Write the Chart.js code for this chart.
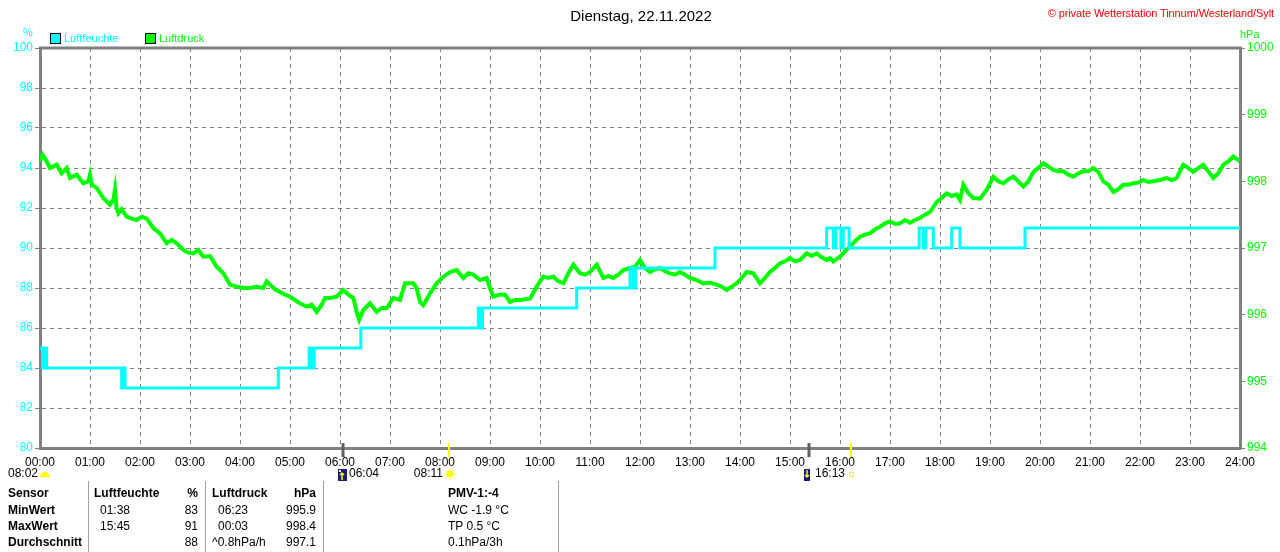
<!DOCTYPE html>
<html>
<head>
<meta charset="utf-8">
<script src="https://cdn.jsdelivr.net/npm/chart.js@4.4.1/dist/chart.umd.min.js"></script>
<style>
body { margin: 0; background: #fff; font-family: "Liberation Sans", Arial, sans-serif; }
#wrap { position: relative; width: 1280px; height: 552px; overflow: hidden; }
canvas { position: absolute; left: 0; top: 0; }
.t { position: absolute; white-space: nowrap; font-size: 12px; line-height: 14px; color: #000; }
.b { font-weight: bold; }
.vl { position: absolute; top: 481px; height: 71px; width: 1px; background: #a0a0a0; }
.sq { position: absolute; width: 9px; height: 9px; border: 1px solid #000; }
</style>
</head>
<body>
<div id="wrap">
  <canvas id="chart" width="1280" height="552"></canvas>

  <div class="t" style="left:0;width:1282px;text-align:center;top:7px;font-size:15px;line-height:17px;">Dienstag, 22.11.2022</div>
  <div class="t" style="right:6px;top:6px;font-size:11px;color:#ff0000;letter-spacing:-0.1px;">© private Wetterstation Tinnum/Westerland/Sylt</div>

  <div class="t" style="left:23px;top:25px;font-size:11px;color:#00ffff;">%</div>
  <div class="t" style="left:1240px;top:27px;font-size:11px;color:#00ff00;">hPa</div>
  <div class="sq" style="left:50px;top:33px;background:#00ffff;"></div>
  <div class="t" style="left:64px;top:31px;font-size:11px;color:#00ffff;">Luftfeuchte</div>
  <div class="sq" style="left:145px;top:33px;background:#00ff00;"></div>
  <div class="t" style="left:159px;top:31px;font-size:11px;color:#00ff00;">Luftdruck</div>

  <div class="vl" style="left:88px;"></div>
  <div class="vl" style="left:205px;"></div>
  <div class="vl" style="left:323px;"></div>
  <div class="vl" style="left:558px;"></div>

  <div class="t b" style="left:8px;top:486px;">Sensor</div>
  <div class="t b" style="left:8px;top:503px;">MinWert</div>
  <div class="t b" style="left:8px;top:519px;">MaxWert</div>
  <div class="t b" style="left:8px;top:535px;">Durchschnitt</div>

  <div class="t b" style="left:94px;top:486px;">Luftfeuchte</div>
  <div class="t b" style="right:1082px;top:486px;">%</div>
  <div class="t" style="left:100px;top:503px;">01:38</div>
  <div class="t" style="right:1082px;top:503px;">83</div>
  <div class="t" style="left:100px;top:519px;">15:45</div>
  <div class="t" style="right:1082px;top:519px;">91</div>
  <div class="t" style="right:1082px;top:535px;">88</div>

  <div class="t b" style="left:212px;top:486px;">Luftdruck</div>
  <div class="t b" style="right:964px;top:486px;">hPa</div>
  <div class="t" style="left:218px;top:503px;">06:23</div>
  <div class="t" style="right:964px;top:503px;">995.9</div>
  <div class="t" style="left:218px;top:519px;">00:03</div>
  <div class="t" style="right:964px;top:519px;">998.4</div>
  <div class="t" style="left:212px;top:535px;">^0.8hPa/h</div>
  <div class="t" style="right:964px;top:535px;">997.1</div>

  <div class="t b" style="left:448px;top:486px;">PMV-1:-4</div>
  <div class="t" style="left:448px;top:503px;">WC -1.9 °C</div>
  <div class="t" style="left:448px;top:519px;">TP 0.5 °C</div>
  <div class="t" style="left:448px;top:535px;">0.1hPa/3h</div>
</div>

<script>
// Zeiten in Minuten seit 00:00
const humTimes = [0, 3, 5, 8, 98, 100, 102, 286, 323, 326, 329, 385, 526, 529, 531, 644, 708, 712, 715,
  810, 944, 952, 955, 961, 964, 971, 1055, 1060, 1063, 1072, 1094, 1104, 1182, 1440];
const humValues = [85, 84, 85, 84, 83, 84, 83, 84, 85, 84, 85, 86, 87, 86, 87, 88, 89, 88, 89,
  90, 91, 90, 91, 90, 91, 90, 91, 90, 91, 90, 91, 90, 91, 91];

const pressTimes = [0, 3, 8, 12, 20, 26, 32, 36, 44, 52, 58, 60, 62, 68, 76, 84, 88, 90, 92, 94, 98,
  104, 110, 116, 122, 128, 136, 144, 152, 158, 164, 172, 178, 184, 190, 196, 204, 212, 220, 228, 236,
  244, 252, 260, 268, 272, 276, 282, 288, 294, 300, 306, 312, 320, 326, 332, 338, 342, 348, 356, 364,
  370, 376, 380, 383, 388, 396, 404, 410, 416, 424, 432, 438, 448, 452, 456, 460, 468, 476, 484, 492,
  500, 508, 514, 520, 528, 536, 540, 544, 552, 558, 564, 570, 576, 588, 596, 604, 610, 616, 622, 628,
  634, 640, 648, 654, 660, 668, 676, 682, 688, 694, 700, 708, 714, 720, 726, 732, 738, 744, 750, 756,
  762, 768, 774, 780, 788, 796, 804, 812, 818, 824, 830, 836, 842, 848, 856, 864, 870, 876, 882, 888,
  894, 900, 906, 912, 920, 926, 932, 938, 944, 948, 952, 960, 966, 972, 978, 984, 990, 996, 1002, 1008,
  1014, 1020, 1026, 1032, 1038, 1044, 1050, 1056, 1062, 1068, 1076, 1082, 1088, 1094, 1100, 1104, 1108,
  1114, 1120, 1128, 1136, 1144, 1150, 1156, 1162, 1168, 1174, 1180, 1186, 1192, 1198, 1204, 1210, 1216,
  1222, 1228, 1234, 1240, 1246, 1252, 1258, 1264, 1270, 1276, 1282, 1288, 1294, 1300, 1306, 1312, 1318,
  1324, 1330, 1336, 1344, 1352, 1358, 1364, 1372, 1378, 1384, 1390, 1396, 1402, 1408, 1414, 1420, 1426,
  1432, 1438, 1440];
const pressValues = [998.3, 998.4, 998.3, 998.2, 998.25, 998.12, 998.2, 998.05, 998.1, 997.97, 998.0, 998.1,
  997.95, 997.9, 997.75, 997.65, 997.72, 997.88, 997.6, 997.52, 997.58,
  997.47, 997.44, 997.42, 997.47, 997.44, 997.3, 997.22, 997.07, 997.12, 997.07, 996.97, 996.93, 996.92,
  996.97, 996.87, 996.88, 996.72, 996.62, 996.45, 996.42,
  996.4, 996.4, 996.42, 996.4, 996.5, 996.45, 996.38, 996.34, 996.3, 996.27, 996.22, 996.17, 996.12,
  996.15, 996.04, 996.15, 996.25, 996.25, 996.27, 996.37,
  996.3, 996.25, 996.04, 995.92, 996.07, 996.17, 996.04, 996.1, 996.1, 996.25, 996.22, 996.47, 996.47,
  996.4, 996.19, 996.14, 996.32, 996.47, 996.57, 996.64,
  996.67, 996.55, 996.62, 996.6, 996.52, 996.55, 996.4, 996.27, 996.3, 996.3, 996.19, 996.22, 996.22,
  996.24, 996.42, 996.57, 996.55, 996.57, 996.5, 996.47,
  996.62, 996.75, 996.62, 996.6, 996.64, 996.75, 996.55, 996.58, 996.55, 996.6, 996.67, 996.7, 996.72,
  996.82, 996.7, 996.64, 996.68, 996.7, 996.65, 996.62,
  996.6, 996.64, 996.6, 996.55, 996.52, 996.47, 996.48, 996.45, 996.42, 996.37, 996.42, 996.47, 996.55,
  996.64, 996.62, 996.47, 996.55, 996.64, 996.7, 996.77,
  996.8, 996.85, 996.8, 996.82, 996.92, 996.88, 996.92, 996.86, 996.82, 996.85, 996.8, 996.87, 996.95,
  997.02, 997.1, 997.17, 997.2, 997.22, 997.28, 997.32,
  997.37, 997.4, 997.36, 997.37, 997.42, 997.38, 997.42, 997.45, 997.5, 997.54, 997.69, 997.75, 997.82,
  997.78, 997.8, 997.72, 997.95,
  997.82, 997.75, 997.74, 997.87, 998.07, 998.0, 997.97, 998.03, 998.07, 998.0, 997.92, 998.0, 998.14,
  998.2, 998.27, 998.22, 998.17,
  998.15, 998.15, 998.1, 998.07, 998.12, 998.15, 998.15, 998.2, 998.14, 998.0, 997.95, 997.84, 997.88,
  997.95, 997.95, 997.97, 997.98,
  998.02, 997.99, 998.0, 998.02, 998.05, 998.02, 998.05, 998.25, 998.2, 998.14, 998.2, 998.25, 998.15,
  998.05, 998.12, 998.25, 998.3,
  998.37, 998.32, 998.3];

// Mond auf/unter, Sonne auf/unter
const moonTimes = [364, 923];
const sunTimes = [491, 973];
const moonLabels = ['06:04', ''];
const sunLabels = ['08:11', '16:13'];
const dawnLabel = '08:02';

function hhmm(v) {
  const h = Math.floor(v / 60), m = v % 60;
  return String(h).padStart(2, '0') + ':' + String(m).padStart(2, '0');
}

const extrasPlugin = {
  id: 'extras',
  afterDraw(chart) {
    const { ctx, chartArea: a, scales: { x } } = chart;
    ctx.save();
    // oberer Rahmen
    ctx.strokeStyle = '#808080';
    ctx.lineWidth = 3;
    ctx.beginPath();
    ctx.moveTo(a.left - 1, a.top);
    ctx.lineTo(a.right + 1, a.top);
    ctx.stroke();

    // Markierungen an der Zeitachse
    moonTimes.forEach(t => {
      const px = Math.round(x.getPixelForValue(t));
      ctx.strokeStyle = '#606060';
      ctx.lineWidth = 3;
      ctx.beginPath(); ctx.moveTo(px, a.bottom - 5); ctx.lineTo(px, a.bottom + 9); ctx.stroke();
    });
    sunTimes.forEach(t => {
      const px = Math.round(x.getPixelForValue(t));
      ctx.strokeStyle = '#ffff00';
      ctx.lineWidth = 2;
      ctx.beginPath(); ctx.moveTo(px, a.bottom - 5); ctx.lineTo(px, a.bottom + 9); ctx.stroke();
    });

    ctx.font = '12px "Liberation Sans", Arial, sans-serif';
    ctx.fillStyle = '#000';
    ctx.textBaseline = 'middle';
    const ty = a.bottom + 26;

    // Dämmerung links
    ctx.textAlign = 'left';
    ctx.fillText(dawnLabel, 8, ty);
    ctx.fillStyle = '#ffff00';
    ctx.beginPath(); ctx.arc(45, ty + 3, 5, Math.PI, 2 * Math.PI); ctx.fill();

    // Mond-Icons
    moonTimes.forEach((t, i) => {
      const px = Math.round(x.getPixelForValue(t));
      const ix = px - 5;
      ctx.fillStyle = '#1a1a80';
      ctx.fillRect(ix, ty - 5, i === 0 ? 9 : 6, 12);
      ctx.strokeStyle = '#ffff00';
      ctx.lineWidth = 1.5;
      const cx = ix + (i === 0 ? 4 : 3);
      ctx.beginPath();
      if (i === 0) {
        ctx.moveTo(cx, ty + 6); ctx.lineTo(cx, ty - 1);
        ctx.moveTo(cx - 2, ty + 1); ctx.lineTo(cx, ty - 1); ctx.lineTo(cx + 2, ty + 1);
      } else {
        ctx.moveTo(cx, ty - 4); ctx.lineTo(cx, ty + 3);
        ctx.moveTo(cx - 2, ty + 1); ctx.lineTo(cx, ty + 3); ctx.lineTo(cx + 2, ty + 1);
      }
      ctx.stroke();
      if (i === 0) {
        ctx.fillStyle = '#ffffff';
        ctx.fillRect(ix + 1, ty - 4, 2, 2);
      }
      if (moonLabels[i]) {
        ctx.fillStyle = '#000';
        ctx.textAlign = 'left';
        ctx.fillText(moonLabels[i], px + 6, ty);
      }
    });

    // Sonnen-Icons
    sunTimes.forEach((t, i) => {
      const px = Math.round(x.getPixelForValue(t));
      ctx.fillStyle = '#000';
      ctx.textAlign = 'right';
      ctx.fillText(sunLabels[i], px - 6, ty);
      if (i === 0) {
        ctx.fillStyle = '#ffff00';
        ctx.beginPath(); ctx.arc(px + 1, ty, 3.5, 0, 2 * Math.PI); ctx.fill();
        ctx.strokeStyle = '#ffff00';
        ctx.lineWidth = 1;
        for (let k = 0; k < 8; k++) {
          const ang = k * Math.PI / 4;
          ctx.beginPath();
          ctx.moveTo(px + 1 + Math.cos(ang) * 4, ty + Math.sin(ang) * 4);
          ctx.lineTo(px + 1 + Math.cos(ang) * 6, ty + Math.sin(ang) * 6);
          ctx.stroke();
        }
      } else {
        ctx.strokeStyle = '#ffff00';
        ctx.lineWidth = 1;
        ctx.strokeRect(px - 1.5, ty - 1.5, 4, 4);
      }
    });
    ctx.restore();
  }
};

const humPoints = humTimes.map((t, i) => ({ x: t, y: humValues[i] }));
const pressPoints = pressTimes.map((t, i) => ({ x: t, y: pressValues[i] }));

const tickFont = { family: '"Liberation Sans", Arial, sans-serif', size: 12 };

new Chart(document.getElementById('chart').getContext('2d'), {
  type: 'line',
  data: {
    datasets: [{
      label: 'Luftfeuchte',
      data: humPoints,
      yAxisID: 'y',
      borderColor: '#00ffff',
      borderWidth: 3,
      stepped: 'before',
      pointRadius: 0,
      fill: false
    }, {
      label: 'Luftdruck',
      data: pressPoints,
      yAxisID: 'y2',
      borderColor: '#00ff00',
      borderWidth: 4,
      pointRadius: 0,
      tension: 0,
      fill: false
    }]
  },
  options: {
    responsive: false,
    animation: false,
    devicePixelRatio: 1,
    layout: { padding: { top: 48, bottom: 72, left: 0, right: 0 } },
    plugins: { legend: { display: false }, tooltip: { enabled: false } },
    scales: {
      x: {
        type: 'linear',
        min: 0,
        max: 1440,
        afterFit(s) { s.height = 32; },
        ticks: { stepSize: 60, autoSkip: false, maxRotation: 0, padding: 7, color: '#000', font: tickFont,
          callback: v => hhmm(v) },
        grid: { color: '#808080', lineWidth: 1, drawTicks: false },
        border: { color: '#808080', width: 3, dash: [4, 4] }
      },
      y: {
        position: 'left',
        min: 80,
        max: 100,
        afterFit(s) { s.width = 40; },
        ticks: { stepSize: 2, padding: 2, color: '#00ffff', font: tickFont, callback: v => String(v) },
        grid: { color: '#808080', lineWidth: 1, tickLength: 5 },
        border: { color: '#808080', width: 3, dash: [4, 4] }
      },
      y2: {
        position: 'right',
        min: 994,
        max: 1000,
        afterFit(s) { s.width = 40; },
        ticks: { stepSize: 1, padding: 2, color: '#00ff00', font: tickFont, callback: v => String(v) },
        grid: { color: '#808080', lineWidth: 1, tickLength: 5, drawOnChartArea: false },
        border: { color: '#808080', width: 3 }
      }
    }
  },
  plugins: [extrasPlugin]
});
</script>
</body>
</html>
